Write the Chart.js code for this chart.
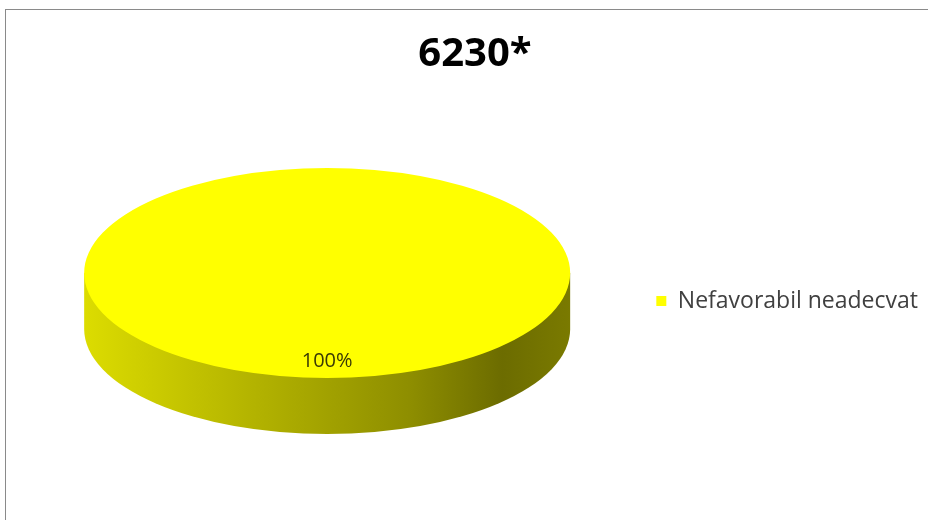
<!DOCTYPE html>
<html>
<head>
<meta charset="utf-8">
<script src="https://cdn.jsdelivr.net/npm/chart.js@4.4.0/dist/chart.umd.min.js"></script>
<style>
    html, body { margin: 0; padding: 0; background: #fff; }
    #wrap { position: relative; width: 928px; height: 520px; overflow: hidden; }
    #frame { position: absolute; left: 5px; top: 9px; width: 1000px; height: 1000px;
             border-top: 1px solid #8a8a8a; border-left: 1px solid #8a8a8a; }
    canvas { position: absolute; left: 0; top: 0; }
</style>
</head>
<body>
<div id="wrap">
    <div id="frame"></div>
    <canvas id="chart" width="928" height="520"></canvas>
</div>
<script>
const chart_title = '6230*'
const categories = ['Nefavorabil neadecvat']
const values = [100]
const slice_colors = ['#ffff00']

// fakes the excel 3d look: squash the pie into an ellipse and put a side band under it
const pie_3d = {
    id: 'pie_3d',
    beforeDatasetsDraw(chart, args, opts) {
        let ctx = chart.ctx
        let arc = chart.getDatasetMeta(0).data[0]
        let rx = arc.outerRadius
        let ry = rx * opts.tilt
        let cx = arc.x
        let cy = arc.y - opts.depth / 2

        let grad = ctx.createLinearGradient(cx - rx, 0, cx + rx, 0)
        grad.addColorStop(0, '#dcdc00')
        grad.addColorStop(0.34, '#b4b400')
        grad.addColorStop(0.67, '#8e8e00')
        grad.addColorStop(0.86, '#6c6c00')
        grad.addColorStop(1, '#7a7a00')

        ctx.save()
        ctx.beginPath()
        ctx.ellipse(cx, cy + opts.depth, rx, ry, 0, 0, Math.PI, false)
        ctx.lineTo(cx - rx, cy)
        ctx.lineTo(cx + rx, cy)
        ctx.closePath()
        ctx.fillStyle = grad
        ctx.fill()
        ctx.restore()

        ctx.save()
        ctx.translate(cx, cy)
        ctx.scale(1, opts.tilt)
        ctx.translate(-arc.x, -arc.y)
    },
    afterDatasetsDraw(chart, args, opts) {
        let ctx = chart.ctx
        ctx.restore()

        let meta = chart.getDatasetMeta(0)
        let total = values.reduce((a, b) => a + b, 0)
        meta.data.forEach((arc, i) => {
            let rx = arc.outerRadius
            let ry = rx * opts.tilt
            let cx = arc.x
            let cy = arc.y - opts.depth / 2
            let mid = (arc.startAngle + arc.endAngle) / 2
            let x = cx + Math.cos(mid) * rx * opts.label_pos
            let y = cy + Math.sin(mid) * ry * opts.label_pos
            ctx.save()
            ctx.font = '20px "Open Sans"'
            ctx.fillStyle = '#3a3a05'
            ctx.textAlign = 'center'
            ctx.textBaseline = 'middle'
            ctx.fillText(Math.round(values[i] / total * 100) + '%', x, y)
            ctx.restore()
        })
    }
}

new Chart(document.getElementById('chart'), {
    type: 'pie',
    data: {
        labels: categories,
        datasets: [{
            data: values,
            backgroundColor: slice_colors,
            borderWidth: 0,
            radius: 243,
            clip: false
        }]
    },
    options: {
        responsive: false,
        animation: false,
        events: [],
        layout: {
            padding: { left: 22, right: 0, top: 0, bottom: 8 }
        },
        plugins: {
            title: {
                display: true,
                text: chart_title,
                color: '#000',
                font: { family: 'Open Sans', size: 40, weight: 'bold' },
                padding: { top: 31, bottom: 11 }
            },
            legend: {
                position: 'right',
                fullSize: false,
                labels: {
                    boxWidth: 10,
                    boxHeight: 10,
                    padding: 24,
                    color: '#404040',
                    font: { family: 'Open Sans', size: 23 }
                }
            },
            tooltip: { enabled: false },
            pie_3d: { tilt: 0.432, depth: 56, label_pos: 0.84 }
        }
    },
    plugins: [pie_3d]
})
</script>
</body>
</html>
